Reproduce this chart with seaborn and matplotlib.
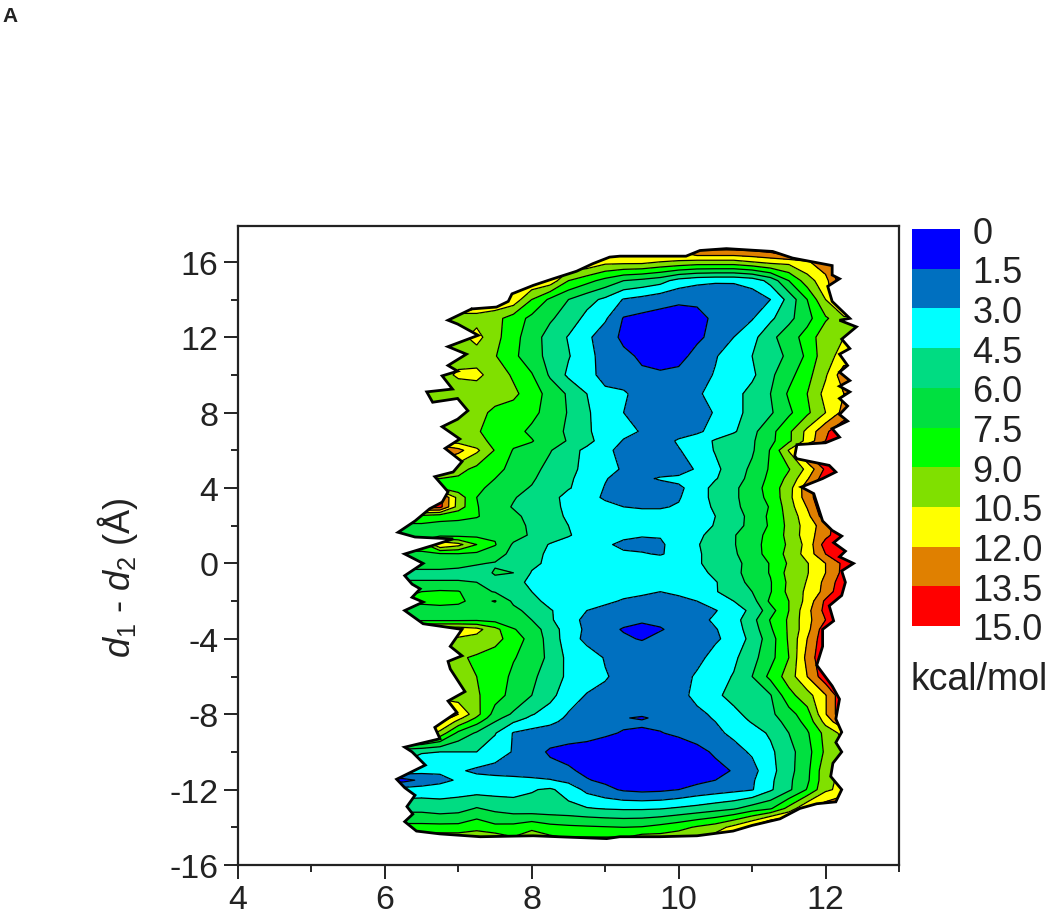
# Free energy map of d1 - d2 against d
import numpy as np
import matplotlib
matplotlib.use('Agg')
import matplotlib.pyplot as plt
import seaborn as sns
from matplotlib.colors import ListedColormap
from matplotlib.patches import Polygon

x_grid = [6.0, 6.25, 6.5, 6.75, 7.0, 7.25, 7.5, 7.75, 8.0, 8.25, 8.5, 8.75, 9.0, 9.25,
          9.5, 9.75, 10.0, 10.25, 10.5, 10.75, 11.0, 11.25, 11.5, 11.75, 12.0, 12.25, 12.5]

y_grid = [17, 16.5, 16, 15, 14, 13, 12, 11, 10, 9, 8, 7, 6.5, 6, 5, 4.5, 4, 3.5, 3, 2.5, 2, 1.5, 1, 0.5, 0,
          -0.5, -1, -1.5, -2, -2.5, -3, -3.5, -4, -5, -6, -7, -8, -8.2, -8.4, -9, -10, -11, -11.5, -12,
          -13, -14, -14.5, -15]

# one row per y_grid value, kcal/mol
energy = [
    [14.9, 14.9, 14.9, 14.9, 14.9, 14.9, 14.9, 14.9, 14.9, 14.9, 14.9, 14.9, 14.9, 14.9, 14.9, 14.9, 14.9, 14.9, 14.9, 14.9, 14.9, 14.9, 14.9, 14.9, 14.9, 14.9, 14.9],
    [11.9, 11.9, 11.9, 11.9, 11.9, 11.9, 11.9, 11.9, 11.9, 11.9, 11.9, 11.9, 11.9, 11.9, 11.9, 11.9, 11.9, 13, 13, 13, 13.2, 13.5, 14.9, 14.9, 14.9, 14.9, 14.9],
    [11.9, 11.9, 11.9, 11.9, 11.9, 11.9, 11.9, 11.9, 11.9, 11.9, 11.9, 11.9, 11, 11, 11, 10.5, 10.3, 10, 10, 10, 10.5, 11, 11, 11.8, 13, 14.9, 14.9],
    [11.9, 11.9, 11.9, 11.9, 11.9, 11.9, 11.9, 11.9, 11.9, 11.5, 9, 8, 7, 6, 5.6, 5.1, 3.9, 3.4, 3.2, 3.2, 3.6, 5, 7.5, 9.8, 11.5, 14.9, 14.9],
    [11.9, 11.9, 11.9, 11.9, 11.9, 11.9, 11.9, 11.5, 9, 7.2, 6, 5, 4.2, 2.9, 2.5, 2, 1.7, 1.7, 1.8, 1.9, 2.2, 3, 5, 7.5, 10.5, 14.9, 14.9],
    [10, 10, 10, 10, 10, 10, 9.5, 8.3, 7.1, 6.2, 5.3, 4.1, 3.2, 1.4, 1.1, 1, 1, 1.2, 1.7, 2.1, 2.9, 4.2, 5.6, 7, 8.8, 10, 10],
    [10, 10, 10, 10, 10, 11, 9.5, 8, 6.7, 5.4, 4.4, 3.3, 2.2, 1.2, 0.9, 0.8, 0.8, 1.2, 2, 3, 4, 5.6, 6.8, 8.1, 10, 10.5, 10.5],
    [10, 10, 10, 10, 10, 9.8, 9.1, 7.8, 6.7, 5.5, 4.6, 3.5, 2.4, 1.8, 1.3, 0.9, 1, 2, 2.9, 3.7, 4.5, 5.3, 6.3, 7.8, 10, 11, 11],
    [10, 10, 10, 10, 10.7, 10.9, 9.8, 8.8, 7.6, 5.8, 4.2, 3.3, 2.7, 2.2, 1.7, 1.7, 1.9, 2.5, 3.1, 3.5, 4.2, 5.7, 7, 8.5, 10.3, 13, 13],
    [9.7, 9.7, 9.7, 9.7, 9.7, 9.6, 9.4, 9.3, 8.3, 6.9, 5.8, 4.5, 3.2, 3.2, 2.4, 2, 2.2, 2.8, 3.5, 4, 5, 6, 7.7, 9, 11, 12, 12],
    [9.4, 9.4, 9.4, 9.4, 9.4, 9.3, 8.8, 8.4, 7.9, 6.9, 5.9, 4.7, 3.7, 3, 2.3, 2, 2, 2.5, 3.1, 4, 5, 5.8, 7.2, 8.7, 10.5, 12.5, 13],
    [9.5, 9.5, 9.5, 9.5, 9.5, 9.1, 8.6, 8, 7.2, 6.5, 5.8, 4.7, 3.9, 3.4, 2.9, 2.5, 2.3, 2.8, 3.4, 4.3, 5.6, 7, 8.7, 10.9, 13.2, 14.9, 14.9],
    [9.8, 9.8, 9.8, 9.8, 9.8, 9.5, 8.6, 7.9, 7.6, 6.6, 5.9, 4.9, 3.9, 2.9, 2.5, 2.3, 3.2, 3.6, 4.7, 5.5, 5.8, 7.1, 8.7, 11, 13.5, 14.9, 14.9],
    [14, 14, 14, 14, 12.5, 10.8, 8.9, 7.4, 6.9, 6.1, 5, 4.2, 3.3, 2.6, 2.2, 2.1, 2.9, 3.7, 4.6, 5.1, 5.8, 7.6, 10.6, 14, 14.9, 14.9, 14.9],
    [9.5, 9.5, 9.5, 9.5, 9.5, 8.6, 7.9, 7.1, 6.5, 5.5, 4.9, 4.1, 3.3, 2.9, 2.4, 2, 2.2, 3.2, 4.2, 5.2, 6.3, 7.7, 8.9, 10.9, 13.8, 14.9, 14.9],
    [9, 9, 9, 9, 8.8, 8.2, 7.5, 6.7, 6.2, 5.3, 4.7, 4, 3.1, 2.4, 2.6, 3.2, 3.4, 3.8, 4.4, 5.3, 6.5, 7.9, 9.4, 11.8, 14.5, 14.9, 14.9],
    [9, 9, 9, 9, 8.2, 7.8, 7.1, 6.4, 5.9, 5.2, 4.6, 3.9, 2.9, 2.3, 2.2, 2.1, 2.7, 3.7, 5, 5.7, 6.8, 8.1, 9.9, 12.9, 14.9, 14.9, 14.9],
    [14, 14, 14, 14, 9.9, 7.5, 6.9, 6.1, 5.5, 5, 4, 3.5, 2.8, 2.4, 2.4, 2.3, 2.9, 3.7, 5, 5.7, 6.8, 7.9, 10, 12.8, 14.9, 14.9, 14.9],
    [14, 14, 14, 14, 9.8, 7.6, 6.6, 5.9, 5.4, 4.9, 4.2, 3.8, 3.4, 3, 2.9, 2.9, 3.1, 3.6, 4.8, 5.6, 6.7, 7.6, 9.8, 12.1, 14.9, 14.9, 14.9],
    [8.5, 8.5, 8.5, 8, 7.9, 7.6, 6.9, 6.3, 5.6, 5, 4.3, 3.7, 3.4, 3.4, 3.4, 3.4, 3.5, 3.8, 4.5, 5.3, 6.5, 7.8, 9.5, 11.5, 14.5, 14.9, 14.9],
    [7.2, 7.2, 7.2, 7.1, 7, 6.9, 6.7, 6.4, 5.8, 5.2, 4.5, 3.9, 3.7, 3.6, 3.6, 3.6, 3.6, 3.9, 4.6, 5.4, 6.5, 7.7, 9.4, 11.2, 12.8, 14.9, 14.9],
    [7, 7, 7, 7, 7, 7.1, 7.3, 6.6, 5.8, 5.2, 4.6, 4, 3.6, 3.3, 3.1, 3.1, 3.4, 4.2, 5, 5.9, 6.8, 8, 9.4, 11.3, 13, 14.9, 14.9],
    [8, 8, 8, 12, 11, 9, 7.6, 5.8, 5.2, 4.4, 4, 3.6, 3.2, 2.7, 2.6, 2.8, 3.6, 4.4, 5.1, 5.9, 6.9, 8.1, 9.2, 11, 14.2, 14.9, 14.9],
    [7.3, 7.3, 7.3, 7.3, 7.4, 7.2, 6.6, 5.6, 5, 4.2, 3.7, 3.4, 3.2, 3.2, 3.1, 2.9, 3.4, 4.3, 5.1, 5.8, 6.8, 8.1, 9.4, 11.1, 13.5, 14.9, 14.9],
    [6.7, 6.7, 6.7, 6.7, 6.4, 6.1, 5.9, 5.3, 4.8, 4.2, 3.9, 3.7, 3.6, 3.6, 3.6, 3.7, 3.7, 4.3, 5.1, 5.6, 6.5, 7.6, 9.2, 10.4, 12, 13.9, 14.9],
    [5.6, 5.6, 5.6, 5.6, 5.6, 5.5, 6.1, 6, 4.4, 3.9, 3.7, 3.7, 3.7, 3.7, 3.7, 3.7, 3.7, 3.9, 4.9, 5.6, 6.6, 7.6, 9.5, 10.4, 12, 14, 14.9],
    [6.1, 6.1, 6.1, 6.1, 6.1, 6, 5.7, 5.1, 4.1, 3.8, 3.7, 3.7, 3.7, 3.7, 3.7, 3.7, 3.7, 3.8, 4.4, 5.4, 6.4, 7.4, 9.3, 10.6, 12.4, 14.5, 14.9],
    [7, 7, 7.5, 7.7, 7.6, 6.5, 5.9, 5.2, 4.5, 3.9, 3.7, 3.5, 3.4, 3.3, 3.2, 3, 3.3, 3.7, 4.4, 5.2, 6, 7.4, 9.4, 10.8, 12.5, 14.9, 14.9],
    [7.8, 7.8, 7.8, 8, 7.8, 7, 7.6, 5.7, 4.9, 4.1, 3.8, 3.4, 3.2, 2.9, 2.7, 2.5, 2.6, 3, 4, 4.5, 5.4, 7.8, 9, 11, 13.8, 14.9, 14.9],
    [6.9, 6.9, 6.9, 6.9, 6.9, 6.9, 6.7, 6.4, 5.5, 4.6, 3.9, 3, 2.7, 2.4, 2.1, 2, 2.2, 2.4, 2.9, 3.9, 4.8, 6.9, 9, 11.5, 14, 14.9, 14.9],
    [7.2, 7.2, 7.2, 7.2, 7.2, 7.3, 7, 6.6, 6, 4.7, 3.6, 2.6, 2.2, 1.9, 1.7, 1.8, 1.9, 2.4, 3.3, 3.9, 5.5, 7.6, 9.2, 11.5, 13.5, 14.9, 14.9],
    [11.5, 11.5, 11.5, 11.5, 11.5, 11, 9.5, 7.6, 6.8, 5.2, 3.8, 2.7, 1.9, 1.4, 1.1, 1.4, 1.9, 2.3, 2.9, 3.8, 5.2, 7.3, 9.2, 11.5, 14.5, 14.9, 14.9],
    [10.5, 10.5, 10.5, 10.5, 10.3, 10, 9.6, 8.2, 7, 5.4, 3.7, 2.6, 2.2, 1.7, 1.4, 1.9, 2.2, 2.4, 2.8, 3.5, 5, 6.8, 9.2, 12, 14.7, 14.9, 14.9],
    [9.2, 9.2, 9.2, 9.2, 9.2, 8.8, 8.2, 7.6, 6.9, 5.6, 4.1, 3.7, 2.9, 2.6, 2.5, 2.4, 2.4, 2.6, 3.5, 4.2, 5.5, 7, 9, 12.5, 14.9, 14.9, 14.9],
    [9.3, 9.3, 9.3, 9.3, 9.3, 9, 8.3, 7.2, 6.3, 5.3, 4.2, 3.7, 3.1, 2.6, 2.4, 2.3, 2.4, 3.2, 3.9, 4.6, 6, 7.9, 9.7, 12, 14.5, 14.9, 14.9],
    [9.6, 9.6, 9.6, 9.6, 9.6, 9.2, 8.1, 7, 6, 4.9, 3.7, 2.9, 2.7, 2.4, 2.1, 2, 2.4, 3.5, 4.2, 5, 5.6, 5.9, 8.5, 9.9, 11.9, 14.9, 14.9],
    [14, 14, 14, 14, 12, 9.5, 6.9, 5.8, 4.6, 3.9, 2.9, 2.5, 2.3, 2, 1.8, 1.9, 2.1, 2.6, 3.3, 4.1, 5, 5.7, 6.9, 8.4, 11.9, 14.9, 14.9],
    [13.5, 13.5, 13.5, 13.2, 11, 8.8, 6.5, 5.2, 4.2, 3.6, 2.75, 2.4, 2.2, 1.6, 1.3, 1.9, 2.05, 2.5, 3.15, 3.95, 4.8, 5.5, 6.7, 8.2, 11.4, 14.2, 14.2],
    [13, 13, 13, 12.4, 10, 8, 6, 4.6, 3.8, 3.3, 2.6, 2.3, 2.1, 1.75, 1.7, 1.75, 2, 2.4, 3, 3.8, 4.6, 5.3, 6.5, 8, 11, 13.5, 13.5],
    [12, 12, 12, 10, 7.1, 5.8, 4.6, 2.9, 2.5, 2.3, 2.2, 2, 1.7, 1.4, 1.3, 1.45, 1.7, 2.1, 2.7, 3.3, 3.9, 4.7, 6, 7.3, 9.5, 11, 11],
    [5, 5, 4.6, 4.5, 4.5, 4.5, 3.7, 2.9, 2.1, 1.3, 1, 0.9, 0.7, 0.6, 0.6, 0.7, 0.8, 1.1, 1.7, 2.5, 3.2, 4.2, 5.5, 6.9, 9.3, 10, 10],
    [4, 4, 3.5, 3.3, 3.2, 2.7, 2.5, 2.4, 2.2, 2, 1.7, 1.2, 0.8, 0.6, 0.5, 0.5, 0.6, 0.8, 1.1, 1.6, 2.5, 4, 5.5, 7.1, 10, 11, 11],
    [0.8, 1, 1.8, 2.5, 3.2, 3.6, 3.5, 3.4, 3.3, 3.1, 2.6, 1.6, 1.2, 0.8, 0.7, 0.7, 0.8, 1.1, 1.5, 2.2, 2.8, 4.2, 5.7, 7.2, 10, 11, 11],
    [3.5, 3.6, 3.7, 3.8, 3.9, 3.9, 3.9, 4, 4.4, 4.7, 3.9, 2.6, 1.9, 1.3, 1.1, 1.2, 1.5, 2, 2.3, 2.6, 2.9, 4.3, 5.7, 7.6, 10.2, 11, 11],
    [5.5, 5.5, 5.5, 5.2, 5.4, 6.1, 5.6, 5.2, 5, 5, 4.9, 4.6, 4.4, 4.3, 4.3, 4.4, 4.7, 5, 5.4, 5.8, 6.7, 7.3, 9.5, 12, 13, 14, 14],
    [8, 8, 8, 8, 8, 8.6, 7.9, 8, 8.6, 8, 7.8, 7.7, 7.6, 7.5, 7.6, 8, 8.5, 9.2, 9.8, 11, 12.5, 14.9, 14.9, 14.9, 14.9, 14.9, 14.9],
    [9.7, 9.7, 9.7, 9.7, 9.7, 9.7, 9.7, 9, 9.8, 9.2, 8.8, 8.8, 8.8, 8.8, 9.5, 9.5, 9.8, 10, 11, 11.5, 12, 14.9, 14.9, 14.9, 14.9, 14.9, 14.9],
    [14.9, 14.9, 14.9, 14.9, 14.9, 14.9, 14.9, 14.9, 14.9, 14.9, 14.9, 14.9, 14.9, 14.9, 14.9, 14.9, 14.9, 14.9, 14.9, 14.9, 14.9, 14.9, 14.9, 14.9, 14.9, 14.9, 14.9],
]

# jagged edge of the sampled region, clockwise from the upper left
edge_x = [7.18, 7.52, 7.68, 7.73, 8.02, 8.29, 8.61, 8.83, 9.06, 9.2, 9.73, 10.1, 10.29, 10.65, 11.28,
          11.55, 12.09, 12.09, 12.19, 12.03, 12.09, 12.33, 12.19, 12.42, 12.22, 12.33, 12.19, 12.3,
          12.19, 12.33, 12.19, 12.33, 12.19, 12.3, 12.19, 12.3, 12.09, 12.19, 12.0, 11.61, 11.58,
          11.61, 12.05, 12.14, 11.96, 11.67, 11.84, 11.96, 12.09, 12.22, 12.11, 12.27, 12.19, 12.38,
          12.22, 12.27, 12.22, 12.05, 12.11, 11.96, 11.96, 11.88, 12.09, 12.19, 12.14, 12.22, 12.14,
          12.22, 12.1, 12.07, 12.22, 12.14, 11.88, 11.65, 11.38, 11.0, 10.74, 10.25, 9.74, 9.2, 9.02,
          8.02, 7.3, 6.75, 6.43, 6.27, 6.38, 6.3, 6.41, 6.27, 6.16, 6.55, 6.37, 6.27, 6.75, 6.68,
          6.98, 6.86, 7.09, 6.89, 6.86, 7.05, 6.89, 7.05, 6.52, 6.27, 6.52, 6.37, 6.48, 6.37, 6.27,
          6.52, 6.27, 6.65, 6.93, 6.41, 6.18, 6.41, 6.61, 6.78, 6.86, 6.68, 6.93, 7.05, 6.82, 7.02,
          6.78, 6.99, 7.13, 6.99, 6.65, 6.57, 6.92, 6.78, 6.99, 6.86, 7.11, 6.86, 7.27, 6.99, 6.86]
edge_y = [13.5, 13.6, 13.9, 14.3, 14.75, 15.1, 15.5, 15.9, 16.25, 16.3, 16.3, 16.3, 16.6, 16.7, 16.55,
          16.2, 15.8, 15.3, 15.1, 14.7, 13.9, 13.0, 12.9, 12.55, 11.9, 11.4, 11.1, 10.5,
          10.15, 9.7, 9.4, 9.1, 8.75, 8.35, 7.9, 7.55, 7.15, 6.7, 6.4, 6.3, 5.7,
          5.55, 5.2, 4.85, 4.5, 4.05, 3.7, 2.25, 1.75, 1.45, 1.1, 0.65, 0.35, 0.0,
          -0.4, -1.0, -1.7, -2.25, -3.05, -3.5, -4.4, -5.4, -6.5, -7.2, -8.25, -8.95, -9.5,
          -10.0, -10.6, -11.3, -12.0, -12.65, -12.75, -13.0, -13.55, -13.9, -14.2, -14.45, -14.5, -14.5, -14.6,
          -14.45, -14.5, -14.35, -14.2, -13.7, -13.3, -12.9, -12.3, -11.9, -11.45, -10.7, -10.0, -9.75, -9.3, -8.7,
          -7.9, -7.3, -6.8, -5.6, -5.2, -4.9, -4.4, -3.5, -3.2, -2.5, -2.05, -1.8, -1.35, -1.1, -0.65,
          0.0, 0.5, 0.95, 1.3, 1.4, 1.65, 2.25, 2.9, 3.25, 3.8, 4.6, 4.85, 5.4, 6.1, 6.6,
          7.25, 7.65, 8.1, 8.75, 8.55, 9.1, 9.25, 9.95, 10.2, 10.5, 11.1, 11.5, 12.1, 12.7, 12.9]

levels = [0, 1.5, 3.0, 4.5, 6.0, 7.5, 9.0, 10.5, 12.0, 13.5, 15.0]
level_labels = ['0', '1.5', '3.0', '4.5', '6.0', '7.5', '9.0', '10.5', '12.0', '13.5', '15.0']
band_colors = ['#0000ff', '#0070c0', '#00ffff', '#00dc82', '#00e040',
               '#00ff00', '#80e000', '#ffff00', '#e08000', '#ff0000']

x_ticks = [4, 6, 8, 10, 12]
x_minor = [5, 7, 9, 11, 13]
y_ticks = [-16, -12, -8, -4, 0, 4, 8, 12, 16]
y_minor = [-14, -10, -6, -2, 2, 6, 10, 14]

sns.set_style('ticks')
plt.rcParams['font.family'] = ['Liberation Sans', 'DejaVu Sans']
plt.rcParams['axes.unicode_minus'] = False
plt.rcParams['mathtext.fontset'] = 'custom'
plt.rcParams['mathtext.default'] = 'regular'
plt.rcParams['mathtext.rm'] = 'Liberation Sans'
plt.rcParams['mathtext.it'] = 'Liberation Sans:italic'

W, H = 1050, 920
fig = plt.figure(figsize=(W / 100, H / 100), dpi=100)
ax = fig.add_axes([238 / W, 1 - 866 / H, (899 - 238) / W, (866 - 227) / H])

# y_grid runs downwards in the table, contourf wants it ascending
x = np.array(x_grid)
y = np.array(y_grid)[::-1]
z = np.array(energy)[::-1]

filled = ax.contourf(x, y, z, levels=levels, colors=band_colors)
lines = ax.contour(x, y, z, levels=levels[1:-1], colors='black', linewidths=0.9)
region = Polygon(np.column_stack([edge_x, edge_y]), closed=True, transform=ax.transData)
filled.set_clip_path(region)
lines.set_clip_path(region)
ax.plot(edge_x + edge_x[:1], edge_y + edge_y[:1], color='black', lw=2.0, solid_joinstyle='miter')

ax.set_xlim(4, 13)
ax.set_ylim(-16, 17.9)
ax.set_xticks(x_ticks)
ax.set_xticks(x_minor, minor=True)
ax.set_yticks(y_ticks)
ax.set_yticks(y_minor, minor=True)
ax.tick_params(which='major', direction='out', length=10, width=1.4, labelsize=24.5, colors='#222222', pad=4)
ax.tick_params(which='minor', direction='out', length=5, width=1.4)
for side in ax.spines.values():
    side.set_linewidth(1.6)
    side.set_color('#222222')

fig.text(117 / W, 1 - 578 / H, r'$\mathit{d}_1$ - $\mathit{d}_2$ (Å)', rotation=90,
         ha='center', va='center', fontsize=26, color='#222222')
fig.text(2 / W, 1 - 17 / H, 'A', fontsize=15, fontweight='bold', ha='left', va='center', color='#222222')

# legend blocks
cax = fig.add_axes([912 / W, 1 - 627 / H, 48 / W, (627 - 230) / H])
cells = np.array(levels[:-1]).reshape(-1, 1)
sns.heatmap(cells, ax=cax, cmap=ListedColormap(band_colors), cbar=False, xticklabels=False, yticklabels=False)
cax.set_yticks(np.arange(len(levels)))
cax.set_yticklabels(level_labels, rotation=0)
cax.yaxis.tick_right()
cax.tick_params(axis='y', length=0, labelsize=26, pad=9, colors='#222222')
fig.text(979 / W, 1 - 680 / H, 'kcal/mol', fontsize=27, ha='center', va='center', color='#222222')

fig.savefig('out.png', dpi=100)
